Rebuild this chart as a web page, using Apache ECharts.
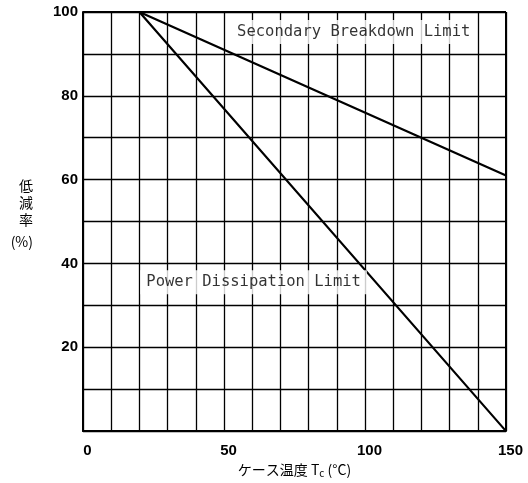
<!DOCTYPE html>
<html><head><meta charset="utf-8">
<script src="https://cdn.jsdelivr.net/npm/echarts@6/dist/echarts.min.js"></script>
<style>html,body{margin:0;padding:0;background:#fff}#c{width:528px;height:483px}</style>
</head><body><div id="c"></div>
<script>
const xTickLabels = [0, 50, 100, 150];
const yTickLabels = [20, 40, 60, 80, 100];
const secondaryBreakdown = [[0, 100], [20, 100], [150, 61]];
const powerDissipation = [[0, 100], [20, 100], [150, 0]];
const annotations = [
  { name: 'Secondary Breakdown Limit', value: [96, 95.2] },
  { name: 'Power Dissipation Limit', value: [60.5, 35.5] }
];

const chart = echarts.init(document.getElementById('c'));
const lineStyle = { color: '#000', width: 2.2 };
chart.setOption({
  backgroundColor: '#fff',
  animation: false,
  grid: { left: 83, right: 22, top: 12, bottom: 51 },
  xAxis: {
    type: 'value', min: 0, max: 150, interval: 10,
    axisLine: { show: true, lineStyle: { color: '#000', width: 2 } },
    axisTick: { show: false },
    splitLine: { show: true, lineStyle: { color: '#000', width: 1.3 } },
    axisLabel: {
      color: '#000', fontSize: 15, fontWeight: 'bold', fontFamily: 'Liberation Sans', margin: 12,
      padding: [0, 0, 0, 9],
      formatter: v => xTickLabels.includes(v) ? String(v) : ''
    },
    name: 'ケース温度 T{s|c} (°C)',
    nameLocation: 'middle', nameGap: 30,
    nameTextStyle: { color: '#000', fontSize: 14, fontFamily: 'Noto Sans CJK JP', rich: { s: { fontSize: 10, verticalAlign: 'bottom', padding: [6, 0, 0, 0] } } }
  },
  yAxis: {
    type: 'value', min: 0, max: 100, interval: 10,
    axisLine: { show: true, lineStyle: { color: '#000', width: 2 } },
    axisTick: { show: false },
    splitLine: { show: true, lineStyle: { color: '#000', width: 1.3 } },
    axisLabel: {
      color: '#000', fontSize: 15, fontWeight: 'bold', fontFamily: 'Liberation Sans', margin: 5,
      formatter: v => yTickLabels.includes(v) ? String(v) : ''
    },
    name: '低\n減\n率\n{p|(%)}',
    nameLocation: 'middle', nameGap: 50, nameRotate: 0,
    nameTextStyle: {
      color: '#000', fontSize: 14, fontFamily: 'Noto Sans CJK JP', lineHeight: 17, padding: [0, 0, 20, 0],
      rich: { p: { fontSize: 14, fontFamily: 'Noto Sans CJK JP', lineHeight: 17, padding: [9, 0, 0, 0] } }
    }
  },
  series: [
    { type: 'line', data: secondaryBreakdown, symbol: 'none', lineStyle, z: 3 },
    { type: 'line', data: powerDissipation, symbol: 'none', lineStyle, z: 3 },
    {
      type: 'scatter', data: annotations, symbolSize: 0, z: 5,
      label: {
        show: true, position: 'inside', formatter: p => p.name,
        color: '#000', fontSize: 15.5, fontFamily: 'DejaVu Sans Mono',
        backgroundColor: '#fff', padding: [4, 6]
      }
    },
    {
      type: 'line', data: [], symbol: 'none',
      markLine: {
        silent: true, symbol: 'none',
        lineStyle: { color: '#000', width: 2, type: 'solid' },
        label: { show: false },
        data: [
          [{ coord: [0, 100] }, { coord: [150, 100] }],
          [{ coord: [150, 0] }, { coord: [150, 100] }]
        ]
      }
    }
  ]
});
</script></body></html>
